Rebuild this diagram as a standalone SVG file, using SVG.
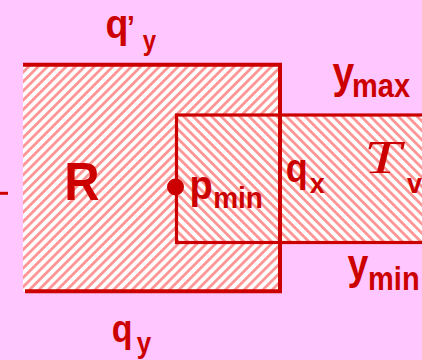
<svg xmlns="http://www.w3.org/2000/svg" width="422" height="360" viewBox="0 0 422 360">
<defs>
<pattern id="hatchR" width="6.6" height="6.6" patternUnits="userSpaceOnUse" patternTransform="rotate(45)"><rect width="6.6" height="6.6" fill="#ffffff"/><rect width="2.8" height="6.6" fill="#FF9696"/></pattern>
<pattern id="hatchT" width="6.6" height="6.6" patternUnits="userSpaceOnUse" patternTransform="rotate(-45)"><rect width="6.6" height="6.6" fill="#ffffff"/><rect width="2.8" height="6.6" fill="#FF9696"/></pattern>
<style>
.t{font-family:"Liberation Sans",Arial,sans-serif;font-weight:bold;fill:#CC0000}
.s{font-family:"Liberation Serif","Times New Roman",serif;font-style:italic;fill:#CC0000}
.ln{stroke:#CC0000;fill:none}
</style>
</defs>
<rect width="422" height="360" fill="#FFC6FF"/>
<g id="R">
<rect x="23" y="65" width="257" height="226" fill="url(#hatchR)"/>
</g>
<g id="T">
<rect x="176.5" y="115" width="250" height="127.5" fill="url(#hatchT)" stroke="#CC0000" stroke-width="3.2"/>
</g>
<g id="R-border">
<polyline class="ln" stroke-width="4" points="23,64.7 280,64.7 280,291.3 25,291.3"/>
</g>
<g id="connectors">
<line class="ln" x1="0" y1="193.3" x2="8" y2="193.3" stroke-width="3"/>
</g>
<g id="p_min">
<circle cx="175.5" cy="187" r="8.5" fill="#CC0000"/>
<text class="t" transform="translate(189.6,199) scale(1,1.05)" font-size="38">p</text>
<text class="t" transform="translate(213.2,208) scale(1,1.05)" font-size="28">min</text>
</g>
<g id="labels">
<text class="t" transform="translate(105.6,38.4) scale(1,1.1)" font-size="37.5">q</text>
<text class="t" transform="translate(127,38) scale(1,1.1)" font-size="28">’</text>
<text class="t" transform="translate(142.8,50.2) scale(1,1.15)" font-size="24">y</text>
<text class="t" transform="translate(64.3,200) scale(1,1.1)" font-size="49">R</text>
<text class="t" transform="translate(332.6,87.5) scale(1,1.13)" font-size="39">y</text>
<text class="t" transform="translate(352.1,97) scale(1,1.12)" font-size="29">max</text>
<text class="t" transform="translate(285.7,181.5) scale(1,1.12)" font-size="36">q</text>
<text class="t" transform="translate(309.7,193) scale(1,1.05)" font-size="27">x</text>
<text class="s" transform="translate(364,173) scale(1.45,1)" font-size="46">T</text>
<text class="t" transform="translate(407,193) scale(1,1)" font-size="27">v</text>
<text class="t" transform="translate(347.6,279) scale(1,1.13)" font-size="37.5">y</text>
<text class="t" transform="translate(368.1,290) scale(1,1.12)" font-size="29">min</text>
<text class="t" transform="translate(111.7,342) scale(1,1.12)" font-size="34">q</text>
<text class="t" transform="translate(136.7,353) scale(1,1.12)" font-size="26">y</text>
</g>
</svg>
